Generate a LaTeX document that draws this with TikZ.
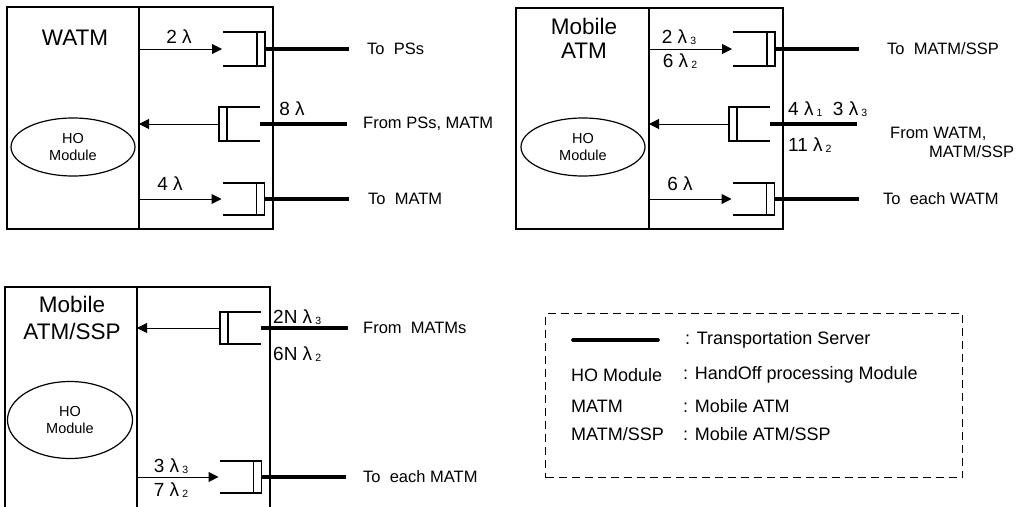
\documentclass[tikz,border=0pt]{standalone}
\usepackage{fontspec}
\setmainfont{Liberation Sans}
\usetikzlibrary{arrows.meta, positioning, calc, shapes.geometric}
\newcommand{\idx}[1]{\kern3pt\raisebox{-0.5pt}{\fontsize{10.5}{10.5}\selectfont #1}}

\begin{document}
\begin{tikzpicture}[x=1pt, y=-1pt,
  part/.style={draw, line width=1.5pt, rectangle, anchor=north west, inner sep=0pt, outer sep=0pt},
  server/.style={draw, line width=1.2pt, rectangle, minimum width=8pt, inner sep=0pt, outer sep=0pt},
  homod/.style={draw, ellipse, line width=1.2pt, align=center, font=\fontsize{14.5}{17}\selectfont},
  title/.style={align=center, font=\fontsize{22.5}{24}\selectfont},
  rate/.style={font=\fontsize{19}{20}\selectfont, inner sep=1pt},
  dest/.style={anchor=west, align=left, inner sep=2pt, font=\fontsize{16.5}{19}\selectfont},
  keytext/.style={anchor=west, inner sep=2pt, font=\fontsize{18}{19}\selectfont},
  flow/.style={-{Triangle[length=10pt, width=10pt]}, line width=1pt},
  link/.style={line width=3.6pt},
  qline/.style={line width=1.2pt},
  legendbox/.style={draw, dash pattern=on 8pt off 5pt, line width=1.2pt, anchor=north west, inner sep=0pt}
]
  \clip (0,0) rectangle (1020,506);

  % Wired ATM unit
  \node[part, minimum width=132pt, minimum height=222pt] (watmL) at (7,7) {};
  \node[part, minimum width=134pt, minimum height=222pt] (watmR) at (139,7) {};
  \node[title] (watmT) at (75,38) {WATM};
  \node[homod, minimum width=124pt, minimum height=58pt] (watmHO) at (73,147) {HO\\Module};

  % Mobile ATM unit
  \node[part, minimum width=133pt, minimum height=221pt] (matmL) at (516,8) {};
  \node[part, minimum width=134pt, minimum height=221pt] (matmR) at (649,8) {};
  \node[title] (matmT) at (584,38.5) {Mobile\\ATM};
  \node[homod, minimum width=124pt, minimum height=58pt] (matmHO) at (583,147) {HO\\Module};

  % Mobile ATM/SSP unit (runs past the bottom edge)
  \node[part, minimum width=132pt, minimum height=240pt] (sspL) at (5,287) {};
  \node[part, minimum width=133pt, minimum height=240pt] (sspR) at (137,287) {};
  \node[title, font=\fontsize{22.5}{27}\selectfont] (sspT) at (72,318) {Mobile\\ATM/SSP};
  \node[homod, minimum width=125pt, minimum height=77pt] (sspHO) at (70,420) {HO\\Module};

  % Outgoing queues (open to the left)
  \foreach \q/\qx/\qy/\h/\u in {wq1/261/49/34/watmL, wq3/260.5/199/32/watmL,
      mq1/771/49/34/matmL, mq3/770.5/199/32/matmL, sq2/257.5/477/32/sspL} {
    \node[server, minimum height=\h pt] (\q) at (\qx,\qy) {};
    \draw[qline] (\q.north west) -- ++(-34,0);
    \draw[qline] (\q.south west) -- ++(-34,0);
    \coordinate (\q-in) at ($(\q.west)+(-35,0)$);
    \coordinate (\q-out) at ($(\q.east)+(84,0)$);
    \draw[flow] (\u.east |- \q-in) -- (\q-in);
    \draw[link] (\q.east) -- (\q-out);
  }

  % Incoming queues (open to the right)
  \foreach \q/\qx/\qy/\h/\u in {wq2/223/124/34/watmL, mq2/733/124/34/matmL,
      sq1/224/328/32/sspL} {
    \node[server, minimum height=\h pt] (\q) at (\qx,\qy) {};
    \draw[qline] (\q.north east) -- ++(33,0);
    \draw[qline] (\q.south east) -- ++(33,0);
    \coordinate (\q-in) at ($(\q.east)+(33,0)$);
    \coordinate (\q-src) at ($(\q.east)+(120,0)$);
    \draw[flow] (\q.west) -- (\u.east |- \q.west);
    \draw[link] (\q-in) -- (\q-src);
  }

  % Rates, WATM
  \node[rate] (r1) at (179,37) {2 λ};
  \node[rate] (r2) at (292,109) {8 λ};
  \node[rate] (r3) at (170,184) {4 λ};
  \node[dest] (d1) at (365,49) {To\ \ PSs};
  \node[dest] (d2) at (361,124) {From PSs, MATM};
  \node[dest] (d3) at (366,199) {To\ \ MATM};

  % Rates, Mobile ATM
  \node[rate] (r4) at (679,37) {2 λ\idx{3}};
  \node[rate] (r5) at (680,61) {6 λ\idx{2}};
  \node[rate, anchor=west] (r6) at (787,109) {4 λ\idx{1}\ \ 3 λ\idx{3}};
  \node[rate, anchor=west] (r7) at (787,145) {11 λ\idx{2}};
  \node[rate] (r8) at (680,184) {6 λ};
  \node[dest] (d4) at (885,49) {To\ \ MATM/SSP};
  \node[dest] (d5) at (888,142.5) {From WATM,\\\hspace*{39pt}MATM/SSP};
  \node[dest] (d6) at (881,199) {To\ \ each WATM};

  % Rates, Mobile ATM/SSP
  \node[rate, anchor=west] (r9) at (272,317) {2N λ\idx{3}};
  \node[rate, anchor=west] (r10) at (272,354) {6N λ\idx{2}};
  \node[rate] (r11) at (171,466) {3 λ\idx{3}};
  \node[rate] (r12) at (171,490) {7 λ\idx{2}};
  \node[dest] (d7) at (361,328) {From\ \ MATMs};
  \node[dest] (d8) at (361,477) {To\ \ each MATM};

  % Legend
  \node[legendbox, minimum width=417pt, minimum height=164pt] (key) at (545,313) {};
  \coordinate (keya) at (573,340);
  \coordinate (keyb) at (658,340);
  \draw[link, line cap=round] (keya) -- (keyb);
  \node[keytext] (k1) at (683,340) {: Transportation Server};
  \node[keytext] (k2n) at (569,375) {HO Module};
  \node[keytext] (k2) at (681,375) {: HandOff processing Module};
  \node[keytext] (k3n) at (569,406) {MATM};
  \node[keytext] (k3) at (681,406) {: Mobile ATM};
  \node[keytext] (k4n) at (569,434) {MATM/SSP};
  \node[keytext] (k4) at (681,434) {: Mobile ATM/SSP};

\end{tikzpicture}
\end{document}
